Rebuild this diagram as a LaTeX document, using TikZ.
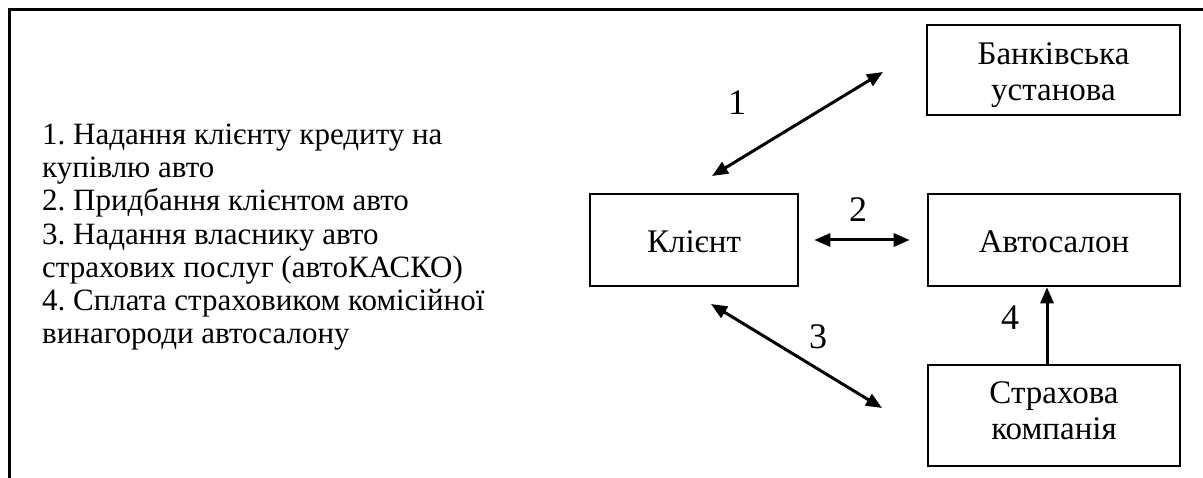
\documentclass[tikz,border=0pt]{standalone}
\usepackage{fontspec}
\setmainfont{Liberation Serif}
\frenchspacing
\usetikzlibrary{arrows.meta}
\begin{document}
\begin{tikzpicture}[x=1pt,y=-1pt,
  party/.style={draw,line width=2.6pt,inner sep=0pt},
  partytext/.style={align=center,inner sep=0pt,
    font=\fontsize{33}{35.5}\selectfont},
  flow/.style={line width=3pt,
    {Triangle[length=16pt,width=13pt]}-{Triangle[length=16pt,width=13pt]}},
  oneway/.style={line width=3pt,-{Triangle[length=16pt,width=13pt]}},
  num/.style={font=\fontsize{36}{36}\selectfont,inner sep=0pt}]
  \useasboundingbox (0,0) rectangle (1203,478);
  % open frame: top and left edges only
  \draw[line width=3pt] (9,478) -- (9,10) -- (1203,10);

  % legend (base anchor sits on the last line)
  \node[anchor=base west,align=left,inner sep=0pt,
        font=\fontsize{31}{33.3}\selectfont] (legend) at (42,344)
    {1. Надання клієнту кредиту на\\
     купівлю авто\\
     2. Придбання клієнтом авто\\
     3. Надання власнику авто\\
     страхових послуг (автоКАСКО)\\
     4. Сплата страховиком комісійної\\
     винагороди автосалону};

  % parties: frames
  \node[party,minimum width=253pt,minimum height=90pt]  (bank)   at (1053.5,70)  {};
  \node[party,minimum width=208pt,minimum height=92pt]  (client) at (694,240)    {};
  \node[party,minimum width=252pt,minimum height=92pt]  (dealer) at (1054,240)   {};
  \node[party,minimum width=252pt,minimum height=101pt] (insur)  at (1054,415.5) {};
  % parties: names (yshift is in page units: negative moves down)
  \node[partytext] (bank-t)   at ([yshift=-5pt]bank.center)   {Банківська\\установа};
  \node[partytext] (client-t) at ([yshift=-2pt]client.center) {Клієнт};
  \node[partytext] (dealer-t) at ([yshift=-2pt]dealer.center) {Автосалон};
  \node[partytext] (insur-t)  at ([yshift=5pt]insur.center)   {Страхова\\компанія};

  % free ends of the diagonal links
  \coordinate (c1) at (712,176);
  \coordinate (b1) at (883,72);
  \coordinate (c3) at (711,304);
  \coordinate (i3) at (882,408);

  \draw[flow] (c1) -- (b1);
  \draw[flow,shorten <=15pt,shorten >=17pt] (client.east) -- (dealer.west);
  \draw[flow] (c3) -- (i3);
  \draw[oneway] ([xshift=-7pt]insur.north) -- ([xshift=-7pt]dealer.south);

  % link numbers
  \node[num] (n1) at (737,103) {1};
  \node[num] (n2) at (858,210) {2};
  \node[num] (n3) at (818,337) {3};
  \node[num] (n4) at (1010,318) {4};
\end{tikzpicture}
\end{document}
